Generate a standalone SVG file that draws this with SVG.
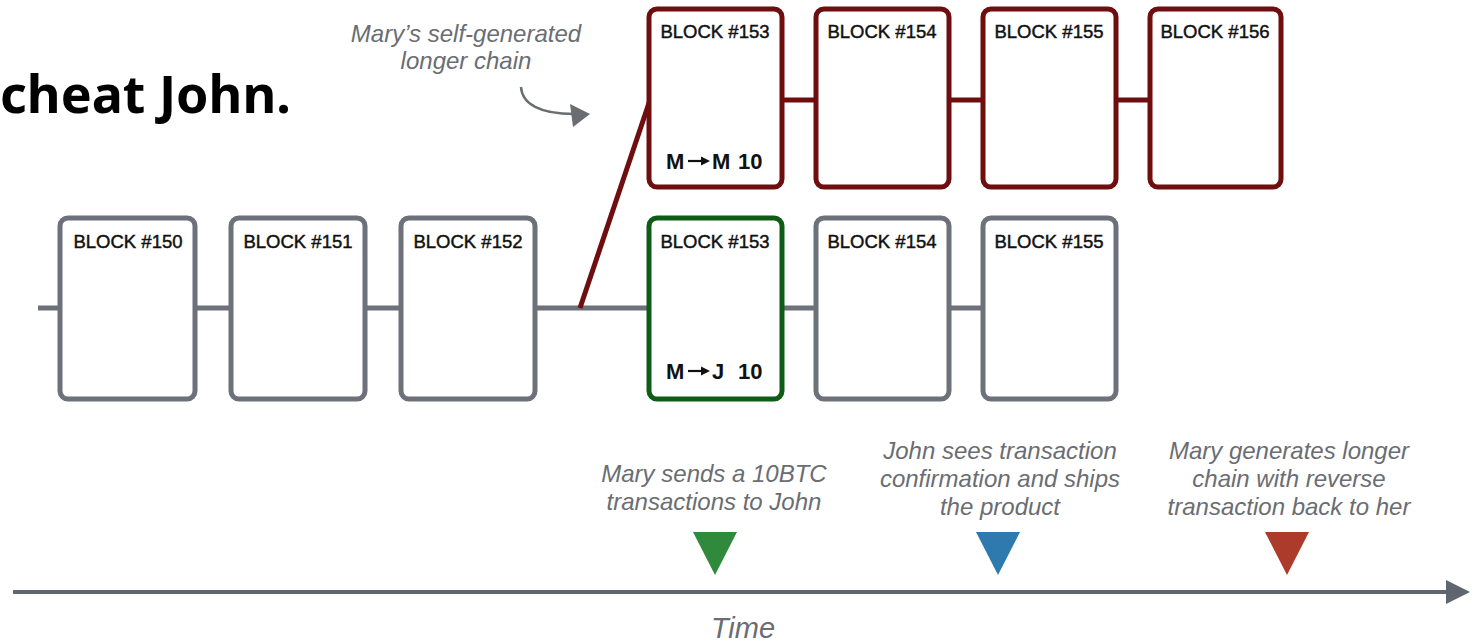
<svg xmlns="http://www.w3.org/2000/svg" width="1476" height="643" viewBox="0 0 1476 643">
  <style>
    .blk { fill: #ffffff; stroke-width: 5; }
    .gray { stroke: #6c717a; }
    .red { stroke: #6e0e0e; }
    .green { stroke: #0f5c17; }
    .lbl { font-family: "Liberation Sans", Arial, sans-serif; font-size: 18.5px; fill: #111; stroke: #111; stroke-width: 0.45; text-anchor: middle; }
    .tx { font-family: "Liberation Sans", Arial, sans-serif; font-size: 22px; font-weight: bold; fill: #111; }
    .note { font-family: "Liberation Sans", Arial, sans-serif; font-size: 24px; font-style: italic; fill: #6a6d72; text-anchor: middle; }
    .link { stroke-width: 5; fill: none; }
  </style>
  <defs>
    <marker id="timeHead" markerWidth="6" markerHeight="6" refX="2" refY="3" orient="auto" markerUnits="strokeWidth">
      <path d="M0,0 L6,3 L0,6 Z" fill="#5f6670"/>
    </marker>
  </defs>
  <rect width="1476" height="643" fill="#ffffff"/>

  <text x="0" y="113" font-family="'Noto Sans', sans-serif" font-size="52" font-weight="bold" fill="#000">cheat John.</text>

  <!-- connectors -->
  <g id="connectors">
    <line class="link gray" x1="38" y1="308" x2="60" y2="308"/>
    <line class="link gray" x1="195" y1="308" x2="231" y2="308"/>
    <line class="link gray" x1="365" y1="308" x2="401" y2="308"/>
    <line class="link gray" x1="535" y1="308" x2="649" y2="308"/>
    <line class="link gray" x1="782" y1="308" x2="816" y2="308"/>
    <line class="link gray" x1="949" y1="308" x2="983" y2="308"/>
    <line class="link red" x1="580" y1="308" x2="650" y2="100"/>
    <line class="link red" x1="782" y1="100" x2="816" y2="100"/>
    <line class="link red" x1="949" y1="100" x2="983" y2="100"/>
    <line class="link red" x1="1116" y1="100" x2="1150" y2="100"/>
  </g>

  <!-- main chain -->
  <g id="block150"><rect class="blk gray" x="60" y="218" width="135" height="181" rx="8"/><text class="lbl" x="128" y="248">BLOCK #150</text></g>
  <g id="block151"><rect class="blk gray" x="231" y="218" width="134" height="181" rx="8"/><text class="lbl" x="298" y="248">BLOCK #151</text></g>
  <g id="block152"><rect class="blk gray" x="401" y="218" width="134" height="181" rx="8"/><text class="lbl" x="468" y="248">BLOCK #152</text></g>
  <g id="block153"><rect class="blk green" x="649" y="218" width="133" height="181" rx="8"/><text class="lbl" x="715" y="248">BLOCK #153</text><text class="tx" x="666" y="379">M</text><path d="M688,371 H703" stroke="#111" stroke-width="2.2"/><path d="M701,366.5 L710,371 L701,375.5 Z" fill="#111"/><text class="tx" x="712" y="379">J</text><text class="tx" x="738" y="379">10</text></g>
  <g id="block154"><rect class="blk gray" x="816" y="218" width="133" height="181" rx="8"/><text class="lbl" x="882" y="248">BLOCK #154</text></g>
  <g id="block155"><rect class="blk gray" x="983" y="218" width="133" height="181" rx="8"/><text class="lbl" x="1049" y="248">BLOCK #155</text></g>

  <!-- attacker chain -->
  <g id="fork153"><rect class="blk red" x="649" y="9" width="133" height="178" rx="8"/><text class="lbl" x="715" y="38">BLOCK #153</text><text class="tx" x="666" y="169">M</text><path d="M688,161 H703" stroke="#111" stroke-width="2.2"/><path d="M701,156.5 L710,161 L701,165.5 Z" fill="#111"/><text class="tx" x="712" y="169">M</text><text class="tx" x="738" y="169">10</text></g>
  <g id="fork154"><rect class="blk red" x="816" y="9" width="133" height="178" rx="8"/><text class="lbl" x="882" y="38">BLOCK #154</text></g>
  <g id="fork155"><rect class="blk red" x="983" y="9" width="133" height="178" rx="8"/><text class="lbl" x="1049" y="38">BLOCK #155</text></g>
  <g id="fork156"><rect class="blk red" x="1150" y="9" width="131" height="178" rx="8"/><text class="lbl" x="1215" y="38">BLOCK #156</text></g>

  <!-- fork annotation -->
  <g id="forkNote">
    <text class="note" x="466" y="42">Mary’s self-generated</text>
    <text class="note" x="466" y="69">longer chain</text>
    <path d="M521,87 C522,104 540,114 574,114" fill="none" stroke="#6a6d72" stroke-width="2.5"/>
    <path d="M570,104 L590,114 L573,127 Z" fill="#6a6d72"/>
  </g>

  <!-- timeline -->
  <g id="timeline">
    <line x1="13" y1="592" x2="1454" y2="592" stroke="#5f6670" stroke-width="4" marker-end="url(#timeHead)"/>
    <text class="note" x="743" y="638" style="font-size:29px">Time</text>
  </g>

  <g id="event1">
    <text class="note" x="714" y="482">Mary sends a 10BTC</text>
    <text class="note" x="714" y="510">transactions to John</text>
    <path d="M693,532 L737,532 L715,575 Z" fill="#2f8a3b"/>
  </g>
  <g id="event2">
    <text class="note" x="1000" y="459">John sees transaction</text>
    <text class="note" x="1000" y="487">confirmation and ships</text>
    <text class="note" x="1000" y="515">the product</text>
    <path d="M976,532 L1020,532 L998,575 Z" fill="#2e79ad"/>
  </g>
  <g id="event3">
    <text class="note" x="1289" y="459">Mary generates longer</text>
    <text class="note" x="1289" y="487">chain with reverse</text>
    <text class="note" x="1289" y="515">transaction back to her</text>
    <path d="M1265,532 L1309,532 L1287,575 Z" fill="#ad3b2b"/>
  </g>
</svg>
